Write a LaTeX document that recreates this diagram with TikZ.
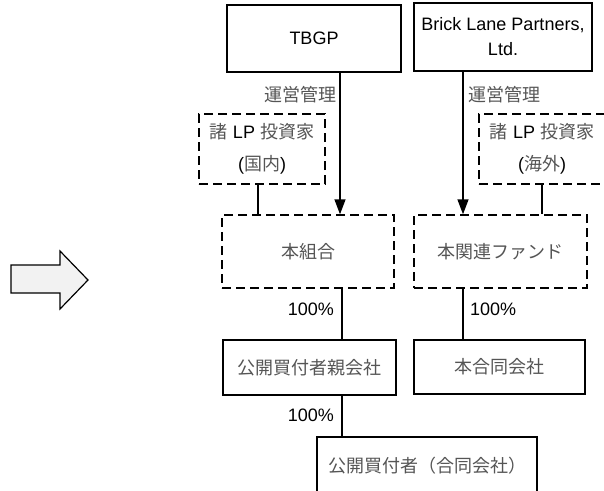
\documentclass[tikz,border=0pt]{standalone}
\usepackage{fontspec}
\setmainfont{Liberation Sans}
\newfontfamily\jpfont{Noto Sans CJK JP}
\usetikzlibrary{arrows.meta, calc}
\definecolor{jpgray}{RGB}{85, 85, 85}
\definecolor{blockfill}{RGB}{242, 242, 242}
\newcommand{\ja}[1]{{\jpfont\color{jpgray}#1}}
\tikzset{
  solidbox/.style={draw, line width=1.4pt, inner sep=0pt, align=center, font=\fontsize{18}{21}\selectfont},
  dashbox/.style={solidbox, dash pattern=on 9pt off 5pt},
  link/.style={line width=1.4pt},
  mgmt/.style={link, -{Triangle[length=15pt, width=11pt]}},
  lbl/.style={inner sep=0pt, font=\fontsize{18}{21}\selectfont}
}

\begin{document}
\begin{tikzpicture}[x=1pt, y=-1pt]
  \useasboundingbox (0,0) rectangle (604,490);
  \clip (0,0) rectangle (604,490);

  % Block arrow on the left
  \draw[line width=1.2pt, fill=blockfill, line join=miter]
    (11,265) -- (60,265) -- (60,251) -- (88,280) -- (60,309) -- (60,293) -- (11,293) -- cycle;

  % Managers
  \node[solidbox, minimum width=174, minimum height=67] (tbgp) at (314, 38.5) {TBGP};
  \node[solidbox, minimum width=178, minimum height=68, font=\fontsize{18}{25}\selectfont] (brick) at (503, 37) {Brick Lane Partners,\\Ltd.};

  % LP investors
  \node[dashbox, minimum width=126, minimum height=70, font=\fontsize{18}{32}\selectfont] (lpdom) at (262, 149)
    {\ja{諸} LP \ja{投資家}\\(\ja{国内})};
  \node[dashbox, minimum width=126, minimum height=70, font=\fontsize{18}{32}\selectfont] (lpfor) at (542, 149)
    {\ja{諸} LP \ja{投資家}\\(\ja{海外})};

  % Funds
  \node[dashbox, minimum width=172, minimum height=73] (kumiai) at (308, 251.5) {\ja{本組合}};
  \node[dashbox, minimum width=173, minimum height=73] (fund) at (500.5, 251.5) {\ja{本関連ファンド}};

  % Companies
  \node[solidbox, minimum width=173, minimum height=55] (oya) at (309.5, 367.5) {\ja{公開買付者親会社}};
  \node[solidbox, minimum width=171, minimum height=54] (godo) at (499.5, 367) {\ja{本合同会社}};
  \node[solidbox, minimum width=220, minimum height=58] (bidder) at (427, 466) {\ja{公開買付者（合同会社）}};

  % Management arrows
  \draw[mgmt] ([xshift=26]tbgp.south) -- ([xshift=26]tbgp.south |- kumiai.north);
  \draw[mgmt] ([xshift=-40]brick.south) -- ([xshift=-40]brick.south |- fund.north);
  \node[lbl, anchor=east] (mgmtl) at (337, 95) {\ja{運営管理}};
  \node[lbl, anchor=west] (mgmtr) at (468, 95) {\ja{運営管理}};

  % Investment lines
  \draw[link] ([xshift=-4]lpdom.south) -- ([xshift=-4]lpdom.south |- kumiai.north);
  \draw[link] (lpfor.south) -- (lpfor.south |- fund.north);

  % Ownership lines
  \draw[link] ([xshift=34]kumiai.south) -- ([xshift=34]kumiai.south |- oya.north);
  \draw[link] ([xshift=-37.5]fund.south) -- ([xshift=-37.5]fund.south |- godo.north);
  \draw[link] ([xshift=32.5]oya.south) -- ([xshift=32.5]oya.south |- bidder.north);
  \node[lbl, anchor=east] (pctl) at (334, 309) {100\%};
  \node[lbl, anchor=west] (pctr) at (470, 309) {100\%};
  \node[lbl, anchor=east] (pctb) at (334, 415) {100\%};
\end{tikzpicture}
\end{document}
